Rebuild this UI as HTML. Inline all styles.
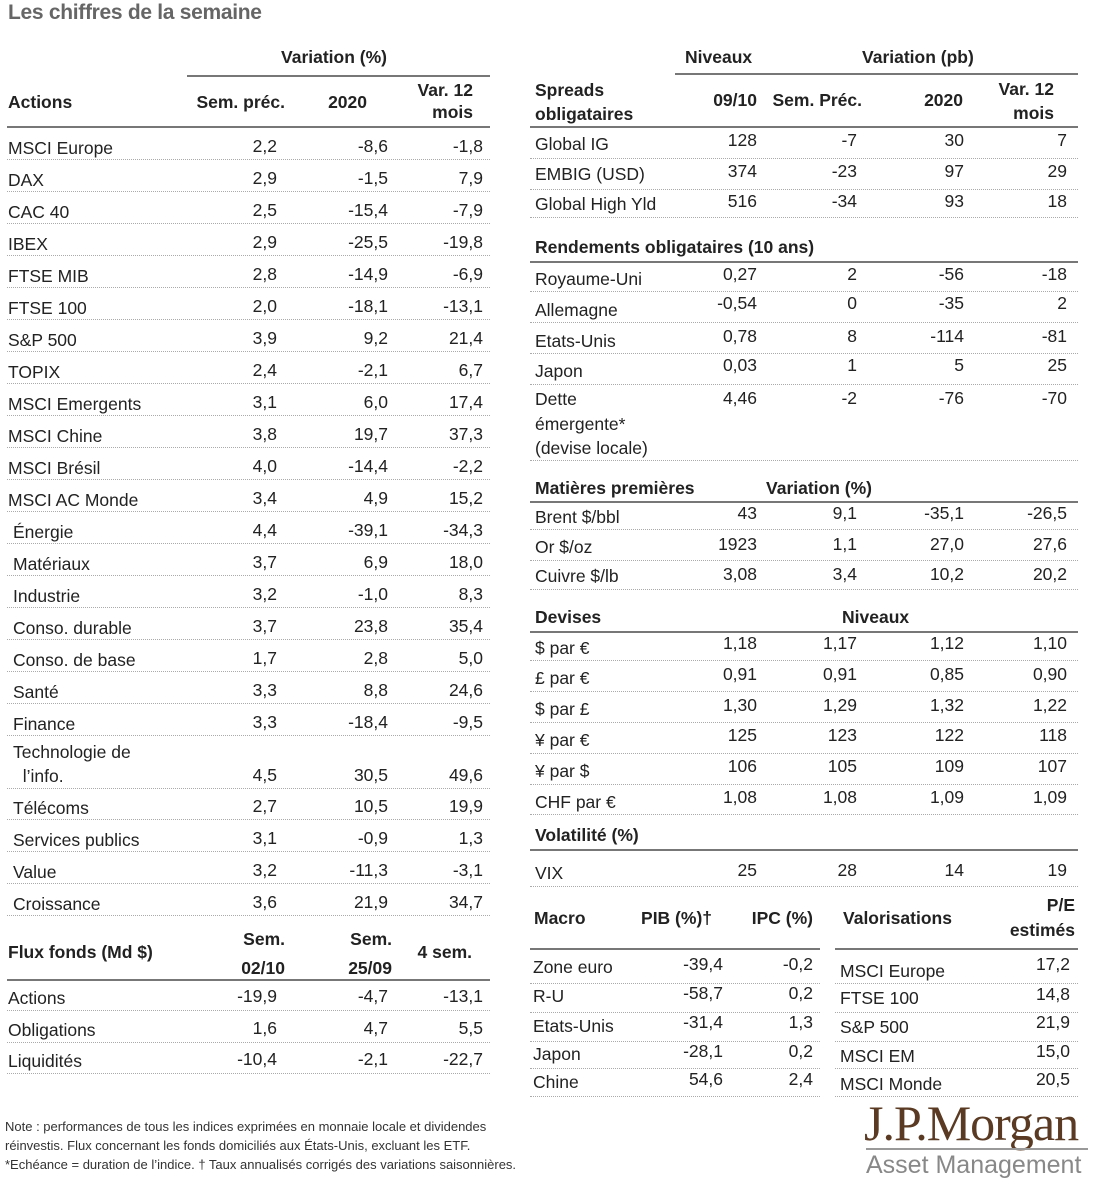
<!DOCTYPE html>
<html><head><meta charset="utf-8"><style>
body{margin:0;width:1102px;height:1200px;background:#fff;position:relative;overflow:hidden;font-family:"Liberation Sans",sans-serif;color:#222;font-size:17.5px}
div{position:absolute;white-space:nowrap;line-height:22px}
.b{font-weight:bold}
.d{height:0;border-top:1px dotted #aaa}
.s{height:0;border-top:2px solid #777}
.r{text-align:right}
</style></head><body>
<div style="left:8px;top:2px;font-size:21px;color:#666;font-weight:bold;letter-spacing:-0.3px">Les chiffres de la semaine</div>

<!-- LEFT TABLE -->
<div class="b" style="left:281px;top:46px">Variation (%)</div>
<div class="s" style="left:187px;top:75px;width:303px"></div>
<div class="b" style="left:8px;top:91px">Actions</div>
<div class="b" style="right:817px;top:91px">Sem. préc.</div>
<div class="b" style="right:735px;top:91px">2020</div>
<div class="b r" style="right:629px;top:79px">Var. 12<br>mois</div>
<div class="s" style="left:7px;top:126px;width:483px"></div>

<div style="left:8px;top:137px">MSCI Europe</div><div style="right:825px;top:135px">2,2</div><div style="right:714px;top:135px">-8,6</div><div style="right:619px;top:135px">-1,8</div>
<div class="d" style="left:7px;top:159px;width:483px"></div>
<div style="left:8px;top:169px">DAX</div><div style="right:825px;top:167px">2,9</div><div style="right:714px;top:167px">-1,5</div><div style="right:619px;top:167px">7,9</div>
<div class="d" style="left:7px;top:191px;width:483px"></div>
<div style="left:8px;top:201px">CAC 40</div><div style="right:825px;top:199px">2,5</div><div style="right:714px;top:199px">-15,4</div><div style="right:619px;top:199px">-7,9</div>
<div class="d" style="left:7px;top:223px;width:483px"></div>
<div style="left:8px;top:233px">IBEX</div><div style="right:825px;top:231px">2,9</div><div style="right:714px;top:231px">-25,5</div><div style="right:619px;top:231px">-19,8</div>
<div class="d" style="left:7px;top:255px;width:483px"></div>
<div style="left:8px;top:265px">FTSE MIB</div><div style="right:825px;top:263px">2,8</div><div style="right:714px;top:263px">-14,9</div><div style="right:619px;top:263px">-6,9</div>
<div class="d" style="left:7px;top:287px;width:483px"></div>
<div style="left:8px;top:297px">FTSE 100</div><div style="right:825px;top:295px">2,0</div><div style="right:714px;top:295px">-18,1</div><div style="right:619px;top:295px">-13,1</div>
<div class="d" style="left:7px;top:319px;width:483px"></div>
<div style="left:8px;top:329px">S&amp;P 500</div><div style="right:825px;top:327px">3,9</div><div style="right:714px;top:327px">9,2</div><div style="right:619px;top:327px">21,4</div>
<div class="d" style="left:7px;top:351px;width:483px"></div>
<div style="left:8px;top:361px">TOPIX</div><div style="right:825px;top:359px">2,4</div><div style="right:714px;top:359px">-2,1</div><div style="right:619px;top:359px">6,7</div>
<div class="d" style="left:7px;top:383px;width:483px"></div>
<div style="left:8px;top:393px">MSCI Emergents</div><div style="right:825px;top:391px">3,1</div><div style="right:714px;top:391px">6,0</div><div style="right:619px;top:391px">17,4</div>
<div class="d" style="left:7px;top:415px;width:483px"></div>
<div style="left:8px;top:425px">MSCI Chine</div><div style="right:825px;top:423px">3,8</div><div style="right:714px;top:423px">19,7</div><div style="right:619px;top:423px">37,3</div>
<div class="d" style="left:7px;top:447px;width:483px"></div>
<div style="left:8px;top:457px">MSCI Brésil</div><div style="right:825px;top:455px">4,0</div><div style="right:714px;top:455px">-14,4</div><div style="right:619px;top:455px">-2,2</div>
<div class="d" style="left:7px;top:479px;width:483px"></div>
<div style="left:8px;top:489px">MSCI AC Monde</div><div style="right:825px;top:487px">3,4</div><div style="right:714px;top:487px">4,9</div><div style="right:619px;top:487px">15,2</div>
<div class="d" style="left:7px;top:511px;width:483px"></div>
<div style="left:13px;top:521px">Énergie</div><div style="right:825px;top:519px">4,4</div><div style="right:714px;top:519px">-39,1</div><div style="right:619px;top:519px">-34,3</div>
<div class="d" style="left:7px;top:543px;width:483px"></div>
<div style="left:13px;top:553px">Matériaux</div><div style="right:825px;top:551px">3,7</div><div style="right:714px;top:551px">6,9</div><div style="right:619px;top:551px">18,0</div>
<div class="d" style="left:7px;top:575px;width:483px"></div>
<div style="left:13px;top:585px">Industrie</div><div style="right:825px;top:583px">3,2</div><div style="right:714px;top:583px">-1,0</div><div style="right:619px;top:583px">8,3</div>
<div class="d" style="left:7px;top:607px;width:483px"></div>
<div style="left:13px;top:617px">Conso. durable</div><div style="right:825px;top:615px">3,7</div><div style="right:714px;top:615px">23,8</div><div style="right:619px;top:615px">35,4</div>
<div class="d" style="left:7px;top:639px;width:483px"></div>
<div style="left:13px;top:649px">Conso. de base</div><div style="right:825px;top:647px">1,7</div><div style="right:714px;top:647px">2,8</div><div style="right:619px;top:647px">5,0</div>
<div class="d" style="left:7px;top:671px;width:483px"></div>
<div style="left:13px;top:681px">Santé</div><div style="right:825px;top:679px">3,3</div><div style="right:714px;top:679px">8,8</div><div style="right:619px;top:679px">24,6</div>
<div class="d" style="left:7px;top:703px;width:483px"></div>
<div style="left:13px;top:713px">Finance</div><div style="right:825px;top:711px">3,3</div><div style="right:714px;top:711px">-18,4</div><div style="right:619px;top:711px">-9,5</div>
<div class="d" style="left:7px;top:735px;width:483px"></div>
<div style="left:13px;top:740px;line-height:24px">Technologie de<br>&nbsp;&nbsp;l’info.</div><div style="right:825px;top:764px">4,5</div><div style="right:714px;top:764px">30,5</div><div style="right:619px;top:764px">49,6</div>
<div class="d" style="left:7px;top:788px;width:483px"></div>
<div style="left:13px;top:797px">Télécoms</div><div style="right:825px;top:795px">2,7</div><div style="right:714px;top:795px">10,5</div><div style="right:619px;top:795px">19,9</div>
<div class="d" style="left:7px;top:819px;width:483px"></div>
<div style="left:13px;top:829px">Services publics</div><div style="right:825px;top:827px">3,1</div><div style="right:714px;top:827px">-0,9</div><div style="right:619px;top:827px">1,3</div>
<div class="d" style="left:7px;top:851px;width:483px"></div>
<div style="left:13px;top:861px">Value</div><div style="right:825px;top:859px">3,2</div><div style="right:714px;top:859px">-11,3</div><div style="right:619px;top:859px">-3,1</div>
<div class="d" style="left:7px;top:883px;width:483px"></div>
<div style="left:13px;top:893px">Croissance</div><div style="right:825px;top:891px">3,6</div><div style="right:714px;top:891px">21,9</div><div style="right:619px;top:891px">34,7</div>
<div class="d" style="left:7px;top:915px;width:483px"></div>

<div class="b" style="left:8px;top:941px">Flux fonds (Md $)</div>
<div class="b r" style="right:817px;top:925px;line-height:29px">Sem.<br>02/10</div>
<div class="b r" style="right:710px;top:925px;line-height:29px">Sem.<br>25/09</div>
<div class="b" style="right:630px;top:941px">4 sem.</div>
<div class="s" style="left:7px;top:979px;width:483px"></div>
<div style="left:8px;top:987px">Actions</div><div style="right:825px;top:985px">-19,9</div><div style="right:714px;top:985px">-4,7</div><div style="right:619px;top:985px">-13,1</div>
<div class="d" style="left:7px;top:1010px;width:483px"></div>
<div style="left:8px;top:1019px">Obligations</div><div style="right:825px;top:1017px">1,6</div><div style="right:714px;top:1017px">4,7</div><div style="right:619px;top:1017px">5,5</div>
<div class="d" style="left:7px;top:1042px;width:483px"></div>
<div style="left:8px;top:1050px">Liquidités</div><div style="right:825px;top:1048px">-10,4</div><div style="right:714px;top:1048px">-2,1</div><div style="right:619px;top:1048px">-22,7</div>
<div class="d" style="left:7px;top:1073px;width:483px"></div>

<!-- RIGHT TABLE -->
<div class="b" style="left:685px;top:46px">Niveaux</div>
<div class="b" style="left:862px;top:46px">Variation (pb)</div>
<div class="s" style="left:675px;top:73px;width:403px"></div>
<div class="b" style="left:535px;top:78px;line-height:24px">Spreads<br>obligataires</div>
<div class="b" style="right:345px;top:89px">09/10</div>
<div class="b" style="right:240px;top:89px">Sem. Préc.</div>
<div class="b" style="right:139px;top:89px">2020</div>
<div class="b r" style="right:48px;top:77px;line-height:24px">Var. 12<br>mois</div>
<div class="s" style="left:530px;top:126px;width:548px"></div>

<div style="left:535px;top:133px">Global IG</div><div style="right:345px;top:129px">128</div><div style="right:245px;top:129px">-7</div><div style="right:138px;top:129px">30</div><div style="right:35px;top:129px">7</div>
<div class="d" style="left:530px;top:158px;width:548px"></div>
<div style="left:535px;top:163px">EMBIG (USD)</div><div style="right:345px;top:160px">374</div><div style="right:245px;top:160px">-23</div><div style="right:138px;top:160px">97</div><div style="right:35px;top:160px">29</div>
<div class="d" style="left:530px;top:189px;width:548px"></div>
<div style="left:535px;top:193px">Global High Yld</div><div style="right:345px;top:190px">516</div><div style="right:245px;top:190px">-34</div><div style="right:138px;top:190px">93</div><div style="right:35px;top:190px">18</div>
<div class="d" style="left:530px;top:217px;width:548px"></div>

<div class="b" style="left:535px;top:236px">Rendements obligataires (10 ans)</div>
<div class="s" style="left:530px;top:261px;width:548px"></div>
<div style="left:535px;top:268px">Royaume-Uni</div><div style="right:345px;top:263px">0,27</div><div style="right:245px;top:263px">2</div><div style="right:138px;top:263px">-56</div><div style="right:35px;top:263px">-18</div>
<div class="d" style="left:530px;top:291px;width:548px"></div>
<div style="left:535px;top:299px">Allemagne</div><div style="right:345px;top:292px">-0,54</div><div style="right:245px;top:292px">0</div><div style="right:138px;top:292px">-35</div><div style="right:35px;top:292px">2</div>
<div class="d" style="left:530px;top:322px;width:548px"></div>
<div style="left:535px;top:330px">Etats-Unis</div><div style="right:345px;top:325px">0,78</div><div style="right:245px;top:325px">8</div><div style="right:138px;top:325px">-114</div><div style="right:35px;top:325px">-81</div>
<div class="d" style="left:530px;top:353px;width:548px"></div>
<div style="left:535px;top:360px">Japon</div><div style="right:345px;top:354px">0,03</div><div style="right:245px;top:354px">1</div><div style="right:138px;top:354px">5</div><div style="right:35px;top:354px">25</div>
<div class="d" style="left:530px;top:384px;width:548px"></div>
<div style="left:535px;top:387px;line-height:24.5px">Dette<br>émergente*<br>(devise locale)</div><div style="right:345px;top:387px">4,46</div><div style="right:245px;top:387px">-2</div><div style="right:138px;top:387px">-76</div><div style="right:35px;top:387px">-70</div>
<div class="d" style="left:530px;top:460px;width:548px"></div>

<div class="b" style="left:535px;top:477px">Matières premières</div>
<div class="b" style="left:766px;top:477px">Variation (%)</div>
<div class="s" style="left:530px;top:501px;width:548px"></div>
<div style="left:535px;top:506px">Brent $/bbl</div><div style="right:345px;top:502px">43</div><div style="right:245px;top:502px">9,1</div><div style="right:138px;top:502px">-35,1</div><div style="right:35px;top:502px">-26,5</div>
<div class="d" style="left:530px;top:529px;width:548px"></div>
<div style="left:535px;top:536px">Or $/oz</div><div style="right:345px;top:533px">1923</div><div style="right:245px;top:533px">1,1</div><div style="right:138px;top:533px">27,0</div><div style="right:35px;top:533px">27,6</div>
<div class="d" style="left:530px;top:560px;width:548px"></div>
<div style="left:535px;top:565px">Cuivre $/lb</div><div style="right:345px;top:563px">3,08</div><div style="right:245px;top:563px">3,4</div><div style="right:138px;top:563px">10,2</div><div style="right:35px;top:563px">20,2</div>
<div class="d" style="left:530px;top:589px;width:548px"></div>

<div class="b" style="left:535px;top:606px">Devises</div>
<div class="b" style="left:842px;top:606px">Niveaux</div>
<div class="s" style="left:530px;top:631px;width:548px"></div>
<div style="left:535px;top:637px">$ par €</div><div style="right:345px;top:632px">1,18</div><div style="right:245px;top:632px">1,17</div><div style="right:138px;top:632px">1,12</div><div style="right:35px;top:632px">1,10</div>
<div class="d" style="left:530px;top:660px;width:548px"></div>
<div style="left:535px;top:667px">£ par €</div><div style="right:345px;top:663px">0,91</div><div style="right:245px;top:663px">0,91</div><div style="right:138px;top:663px">0,85</div><div style="right:35px;top:663px">0,90</div>
<div class="d" style="left:530px;top:691px;width:548px"></div>
<div style="left:535px;top:698px">$ par £</div><div style="right:345px;top:694px">1,30</div><div style="right:245px;top:694px">1,29</div><div style="right:138px;top:694px">1,32</div><div style="right:35px;top:694px">1,22</div>
<div class="d" style="left:530px;top:722px;width:548px"></div>
<div style="left:535px;top:729px">¥ par €</div><div style="right:345px;top:724px">125</div><div style="right:245px;top:724px">123</div><div style="right:138px;top:724px">122</div><div style="right:35px;top:724px">118</div>
<div class="d" style="left:530px;top:753px;width:548px"></div>
<div style="left:535px;top:760px">¥ par $</div><div style="right:345px;top:755px">106</div><div style="right:245px;top:755px">105</div><div style="right:138px;top:755px">109</div><div style="right:35px;top:755px">107</div>
<div class="d" style="left:530px;top:784px;width:548px"></div>
<div style="left:535px;top:791px">CHF par €</div><div style="right:345px;top:786px">1,08</div><div style="right:245px;top:786px">1,08</div><div style="right:138px;top:786px">1,09</div><div style="right:35px;top:786px">1,09</div>
<div class="d" style="left:530px;top:814px;width:548px"></div>
<div class="b" style="left:535px;top:824px">Volatilité (%)</div>
<div class="s" style="left:530px;top:849px;width:548px"></div>
<div style="left:535px;top:862px">VIX</div><div style="right:345px;top:859px">25</div><div style="right:245px;top:859px">28</div><div style="right:138px;top:859px">14</div><div style="right:35px;top:859px">19</div>
<div class="d" style="left:530px;top:886px;width:548px"></div>

<div class="b" style="left:534px;top:907px">Macro</div>
<div class="b" style="right:390px;top:907px">PIB (%)†</div>
<div class="b" style="right:289px;top:907px">IPC (%)</div>
<div class="b" style="left:843px;top:907px">Valorisations</div>
<div class="b r" style="right:27px;top:893px;line-height:25px">P/E<br>estimés</div>
<div class="s" style="left:530px;top:948px;width:290px"></div>
<div class="s" style="left:835px;top:948px;width:243px"></div>

<div style="left:533px;top:956px">Zone euro</div><div style="right:379px;top:953px">-39,4</div><div style="right:289px;top:953px">-0,2</div>
<div style="left:840px;top:960px">MSCI Europe</div><div style="right:32px;top:953px">17,2</div>
<div class="d" style="left:530px;top:983px;width:290px"></div><div class="d" style="left:835px;top:983px;width:243px"></div>
<div style="left:533px;top:985px">R-U</div><div style="right:379px;top:982px">-58,7</div><div style="right:289px;top:982px">0,2</div>
<div style="left:840px;top:987px">FTSE 100</div><div style="right:32px;top:983px">14,8</div>
<div class="d" style="left:530px;top:1012px;width:290px"></div><div class="d" style="left:835px;top:1012px;width:243px"></div>
<div style="left:533px;top:1015px">Etats-Unis</div><div style="right:379px;top:1011px">-31,4</div><div style="right:289px;top:1011px">1,3</div>
<div style="left:840px;top:1016px">S&amp;P 500</div><div style="right:32px;top:1011px">21,9</div>
<div class="d" style="left:530px;top:1041px;width:290px"></div><div class="d" style="left:835px;top:1041px;width:243px"></div>
<div style="left:533px;top:1043px">Japon</div><div style="right:379px;top:1040px">-28,1</div><div style="right:289px;top:1040px">0,2</div>
<div style="left:840px;top:1045px">MSCI EM</div><div style="right:32px;top:1040px">15,0</div>
<div class="d" style="left:530px;top:1068px;width:290px"></div><div class="d" style="left:835px;top:1068px;width:243px"></div>
<div style="left:533px;top:1071px">Chine</div><div style="right:379px;top:1068px">54,6</div><div style="right:289px;top:1068px">2,4</div>
<div style="left:840px;top:1073px">MSCI Monde</div><div style="right:32px;top:1068px">20,5</div>
<div class="d" style="left:530px;top:1096px;width:290px"></div><div class="d" style="left:835px;top:1096px;width:243px"></div>

<!-- NOTES -->
<div style="left:5px;top:1117px;font-size:13px;line-height:19px;color:#333">Note : performances de tous les indices exprimées en monnaie locale et dividendes<br>réinvestis. Flux concernant les fonds domiciliés aux États-Unis, excluant les ETF.<br>*Echéance = duration de l’indice. † Taux annualisés corrigés des variations saisonnières.</div>

<!-- LOGO -->
<div style="left:864px;top:1098px;font-family:'Liberation Serif',serif;font-size:50px;line-height:50px;color:#5a3a22;letter-spacing:-1px">J.P.Morgan</div>
<div style="left:866px;top:1148px;width:222px;height:0;border-top:2px solid #999"></div>
<div style="left:866px;top:1151px;font-size:25px;line-height:28px;color:#888">Asset Management</div>
</body></html>
